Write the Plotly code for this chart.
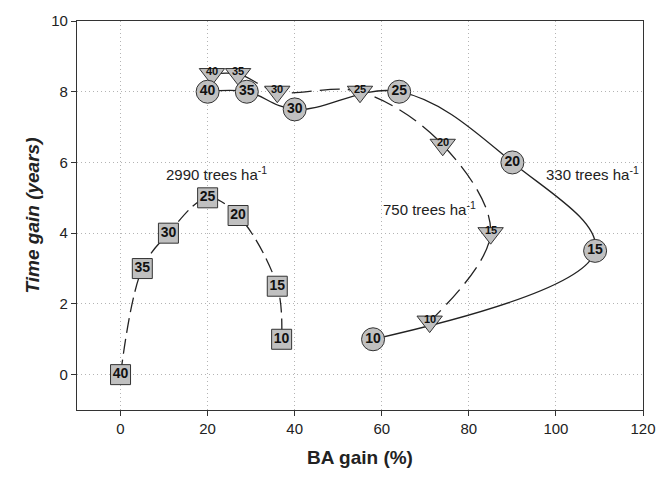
import plotly.graph_objects as go

ages = ["40", "35", "30", "25", "20", "15", "10"]

# 330 trees ha-1 (circles, solid)
x330 = [20, 29, 40, 64, 90, 109, 58]
y330 = [8, 8, 7.5, 8, 6, 3.5, 1]

# 750 trees ha-1 (triangles, long dash)
x750 = [21, 27, 36, 55, 74, 85, 71]
y750 = [8.5, 8.5, 8, 8, 6.5, 4, 1.5]

# 2990 trees ha-1 (squares, dash)
x2990 = [0, 5, 11, 20, 27, 36, 37]
y2990 = [0, 3, 4, 5, 4.5, 2.5, 1]

labels = ["2990 trees ha<sup>-1</sup>", "750 trees ha<sup>-1</sup>", "330 trees ha<sup>-1</sup>"]
label_x = [22, 71, 108.5]
label_y = [5.7, 4.7, 5.7]

FILL = "#c0c0c0"
EDGE = "#333333"
LINE = "#222222"
FONT = "Liberation Sans, Arial, sans-serif"

fig = go.Figure()

fig.add_trace(go.Scatter(x=x330, y=y330, mode="lines",
                         line=dict(color=LINE, width=1.3, shape="spline", smoothing=1.1),
                         hoverinfo="skip"))
fig.add_trace(go.Scatter(x=x750, y=y750, mode="lines",
                         line=dict(color=LINE, width=1.3, shape="spline", smoothing=1.0, dash="20px,8px"),
                         hoverinfo="skip"))
fig.add_trace(go.Scatter(x=x2990, y=y2990, mode="lines",
                         line=dict(color=LINE, width=1.3, shape="spline", smoothing=1.0, dash="15px,6px"),
                         hoverinfo="skip"))

fig.add_trace(go.Scatter(x=x750, y=y750, mode="markers",
                         marker=dict(symbol="triangle-down", size=22, color=FILL,
                                     line=dict(color=EDGE, width=1))))
fig.add_trace(go.Scatter(x=x330, y=y330, mode="markers+text", text=ages,
                         textposition="middle center",
                         textfont=dict(family=FONT, size=14, color="#111111", weight="bold"),
                         marker=dict(symbol="circle", size=23, color=FILL,
                                     line=dict(color=EDGE, width=1))))
fig.add_trace(go.Scatter(x=x2990, y=y2990, mode="markers+text", text=ages,
                         textposition="middle center",
                         textfont=dict(family=FONT, size=14, color="#111111", weight="bold"),
                         marker=dict(symbol="square", size=20, color=FILL,
                                     line=dict(color=EDGE, width=1))))

annotations = []
for a, xv, yv in zip(ages, x750, y750):
    annotations.append(dict(x=xv, y=yv, text="<b>" + a + "</b>", showarrow=False,
                            yshift=3, font=dict(family=FONT, size=11, color="#111111")))
for t, xv, yv in zip(labels, label_x, label_y):
    annotations.append(dict(x=xv, y=yv, text=t, showarrow=False,
                            font=dict(family=FONT, size=15, color="#222222")))

axis_common = dict(showline=True, linecolor="#333333", linewidth=1.3, mirror=True,
                   ticks="outside", ticklen=5, tickcolor="#333333",
                   showgrid=True, gridcolor="#b4b4b4", griddash="1px,3px", gridwidth=1,
                   zeroline=False,
                   tickfont=dict(family=FONT, size=15, color="#222222"))

fig.update_layout(
    width=668, height=482,
    margin=dict(l=77, r=24, t=14, b=72),
    paper_bgcolor="white", plot_bgcolor="white",
    showlegend=False,
    annotations=annotations,
    xaxis=dict(range=[-10, 120], tickvals=[0, 20, 40, 60, 80, 100, 120],
               title=dict(text="<b>BA gain (%)</b>", standoff=14,
                          font=dict(family=FONT, size=19, color="#222222")),
               **axis_common),
    yaxis=dict(range=[-1, 10], tickvals=[0, 2, 4, 6, 8, 10],
               title=dict(text="<b><i>Time gain (years)</i></b>", standoff=6,
                          font=dict(family=FONT, size=19, color="#222222")),
               **axis_common),
)

fig.write_html("out.html")
